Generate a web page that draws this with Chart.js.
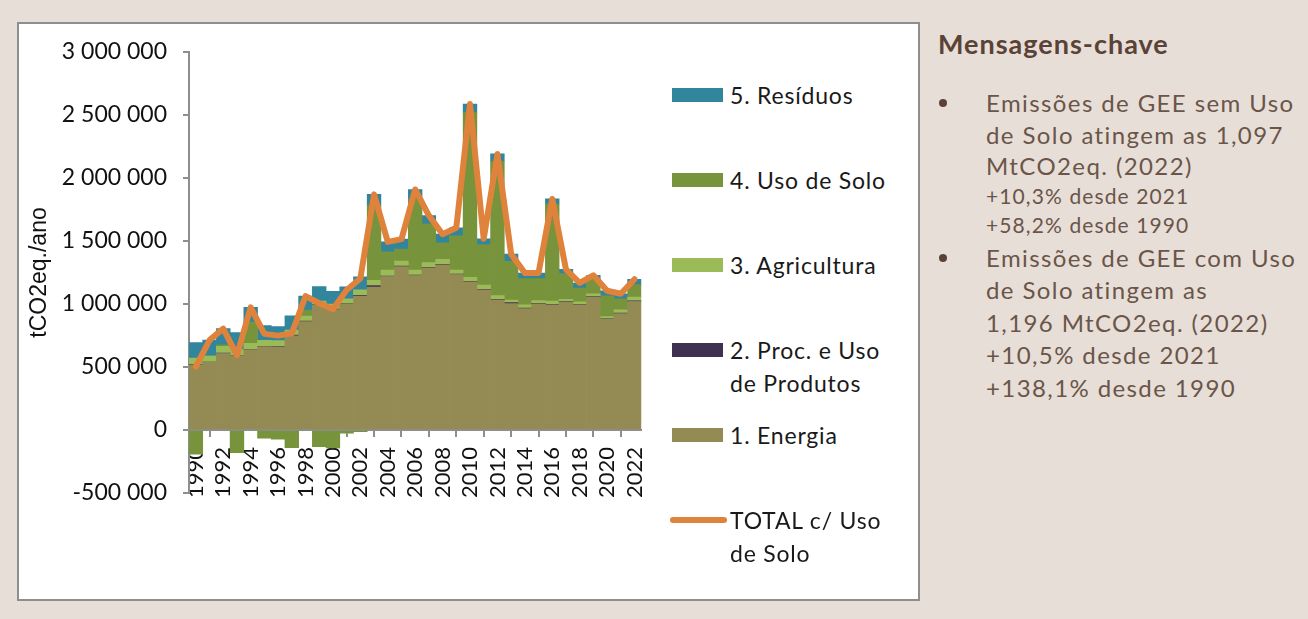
<!DOCTYPE html>
<html>
<head>
<meta charset="utf-8">
<script src="https://cdn.jsdelivr.net/npm/chart.js@4.4.0/dist/chart.umd.min.js"></script>
<style>
body{margin:0;width:1308px;height:619px;background:#e7ded8;position:relative;overflow:hidden;font-family:Lato,sans-serif}
#box{position:absolute;left:17px;top:22px;width:903px;height:579px;background:#fff;border:2px solid #8e8e8e;box-sizing:border-box}
#c{position:absolute;left:0;top:0}
.sw{position:absolute;left:672px;width:51px;height:14px}
.lt{position:absolute;left:730px;font-size:23px;line-height:33px;color:#1a1a1a;white-space:pre;letter-spacing:0.8px}
#title{position:absolute;left:938px;top:27px;font-size:27px;font-weight:bold;color:#5a4236;letter-spacing:1px}
.ln{position:absolute;left:986px;white-space:pre;color:#6a5548;letter-spacing:1.4px}
.big{font-size:24px;line-height:32px}
.small{font-size:21px;line-height:30px;letter-spacing:1.1px}
.dot{position:absolute;left:939px;width:8px;height:8px;border-radius:50%;background:#5a4236}
</style>
</head>
<body>
<div id="box"></div>
<canvas id="c" width="672" height="619"></canvas>
<div id="legend"></div>
<div id="title">Mensagens-chave</div>
<div id="msgs"></div>
<script>
var years = ['1990','1991','1992','1993','1994','1995','1996','1997','1998','1999','2000','2001','2002','2003','2004','2005','2006','2007','2008','2009','2010','2011','2012','2013','2014','2015','2016','2017','2018','2019','2020','2021','2022'];

// tCO2eq./ano
var energia = [515000,537000,607000,590000,638000,662000,659000,748000,860000,989000,955000,997000,1063000,1134000,1218000,1297000,1226000,1287000,1311000,1234000,1173000,1113000,1034000,1003000,963000,1002000,994000,1015000,992000,1055000,878000,923000,1020000];
var proc = [5000,3000,3000,3000,3000,3000,3000,6000,4000,4000,4000,4000,5000,13000,4000,4000,4000,4000,4000,4000,4000,4000,4000,8000,4000,4000,4000,4000,4000,4000,4000,4000,5000];
var agricultura = [50000,47000,55000,50000,47000,47000,47000,40000,40000,30000,40000,40000,45000,40000,47000,40000,40000,37000,40000,32000,34000,34000,29000,21000,26000,21000,26000,18000,21000,21000,18000,26000,30000];
var usoSolo = [-191000,2000,10000,-180000,168000,-65000,-72000,-140000,48000,-132000,-142000,-26000,-13000,599000,145000,95000,565000,308000,130000,272000,1310000,320000,1066000,307000,208000,174000,770000,204000,110000,120000,165000,88000,99000];
var residuos = [123000,124000,130000,130000,118000,116000,112000,113000,110000,115000,102000,96000,102000,84000,79000,79000,74000,66000,69000,63000,66000,47000,58000,58000,45000,45000,40000,34000,40000,28000,40000,40000,42000];

var yTicks = [-500000,0,500000,1000000,1500000,2000000,2500000,3000000];

var seriesNames = ['1. Energia','2. Proc. e Uso\nde Produtos','3. Agricultura','4. Uso de Solo','5. Resíduos'];
var seriesColors = ['#948a54','#403152','#9bbb59','#77933c','#31859c'];
var totalName = 'TOTAL c/ Uso\nde Solo';
var totalColor = '#df823b';

var seriesData = [energia, proc, agricultura, usoSolo, residuos];
var total = years.map(function(y, i) {
    return energia[i] + proc[i] + agricultura[i] + usoSolo[i] + residuos[i];
});

function fmt(v) {
    return String(v).replace(/\B(?=(\d{3})+(?!\d))/g, ' ');
}

// legend (Excel order: top of stack first)
var legend = document.getElementById('legend');
var rowY = 95;
for (var k = seriesNames.length - 1; k >= 0; k--) {
    var sw = document.createElement('div');
    sw.className = 'sw';
    sw.style.top = (rowY - 7) + 'px';
    sw.style.background = seriesColors[k];
    legend.appendChild(sw);
    var t = document.createElement('div');
    t.className = 'lt';
    t.style.top = (rowY - 16) + 'px';
    t.textContent = seriesNames[k];
    legend.appendChild(t);
    rowY += 85;
}
var ls = document.createElement('div');
ls.className = 'sw';
ls.style.left = '670px'; ls.style.width = '57px'; ls.style.height = '6px';
ls.style.borderRadius = '3px'; ls.style.top = (rowY - 3) + 'px';
ls.style.background = totalColor;
legend.appendChild(ls);
var lt = document.createElement('div');
lt.className = 'lt';
lt.style.top = (rowY - 16) + 'px';
lt.textContent = totalName;
legend.appendChild(lt);

// key messages
var msgLines = [
    ['Emissões de GEE sem Uso', 'big', 103, true],
    ['de Solo atingem as 1,097', 'big', 135],
    ['MtCO2eq. (2022)', 'big', 166],
    ['+10,3% desde 2021', 'small', 196],
    ['+58,2% desde 1990', 'small', 225],
    ['Emissões de GEE com Uso', 'big', 258, true],
    ['de Solo atingem as', 'big', 290],
    ['1,196 MtCO2eq. (2022)', 'big', 323],
    ['+10,5% desde 2021', 'big', 355],
    ['+138,1% desde 1990', 'big', 388]
];
var msgs = document.getElementById('msgs');
msgLines.forEach(function(m) {
    var d = document.createElement('div');
    d.className = 'ln ' + m[1];
    d.style.top = (m[2] - (m[1] === 'big' ? 16 : 15)) + 'px';
    d.textContent = m[0];
    msgs.appendChild(d);
    if (m[3]) {
        var b = document.createElement('div');
        b.className = 'dot';
        b.style.top = (m[2] - 4) + 'px';
        msgs.appendChild(b);
    }
});

var datasets = [{
    type: 'line',
    label: totalName.replace('\n', ' '),
    data: total,
    borderColor: totalColor,
    borderWidth: 6,
    pointRadius: 0,
    tension: 0,
    borderJoinStyle: 'round',
    borderCapStyle: 'round',
    order: 0
}];
seriesData.forEach(function(d, k) {
    datasets.push({
        type: 'bar',
        label: seriesNames[k].replace('\n', ' '),
        data: d,
        backgroundColor: seriesColors[k],
        borderWidth: 0,
        barPercentage: 1,
        categoryPercentage: 1,
        order: 1
    });
});

var gridGrey = '#8e8e8e';

function draw() {
    var ctx = document.getElementById('c').getContext('2d');
    new Chart(ctx, {
        data: { labels: years, datasets: datasets },
        options: {
            responsive: false,
            animation: false,
            layout: { padding: { left: 26, right: 7, top: 52, bottom: 126 } },
            plugins: { legend: { display: false }, tooltip: { enabled: false } },
            scales: {
                x: {
                    position: { y: 0 },
                    stacked: true,
                    z: 1,
                    grid: { drawOnChartArea: false, tickLength: 6, color: gridGrey, lineWidth: 2, offset: true },
                    border: { color: gridGrey, width: 2 },
                    ticks: {
                        autoSkip: false, minRotation: 90, maxRotation: 90, padding: 11,
                        color: '#111', font: { family: 'Lato', size: 22 },
                        callback: function(v, i) { return i % 2 === 0 ? years[i] : null; }
                    }
                },
                y: {
                    stacked: true,
                    min: -500000,
                    max: 3000000,
                    afterFit: function(s) { s.width = 163; },
                    afterBuildTicks: function(s) { s.ticks = yTicks.map(function(v) { return { value: v }; }); },
                    grid: { drawOnChartArea: false, tickLength: 6, color: gridGrey, lineWidth: 2 },
                    border: { color: gridGrey, width: 2 },
                    ticks: {
                        padding: 16, color: '#111', font: { family: 'Lato', size: 23 },
                        callback: function(v) { return fmt(v); }
                    },
                    title: {
                        display: true, text: 'tCO2eq./ano', color: '#111', padding: 0,
                        font: { family: 'Liberation Sans', size: 23 }
                    }
                }
            }
        }
    });
}

Promise.all([
    document.fonts.load('23px Lato'),
    document.fonts.load('bold 27px Lato'),
    document.fonts.load('23px "Liberation Sans"')
]).then(draw, draw);
</script>
</body>
</html>
